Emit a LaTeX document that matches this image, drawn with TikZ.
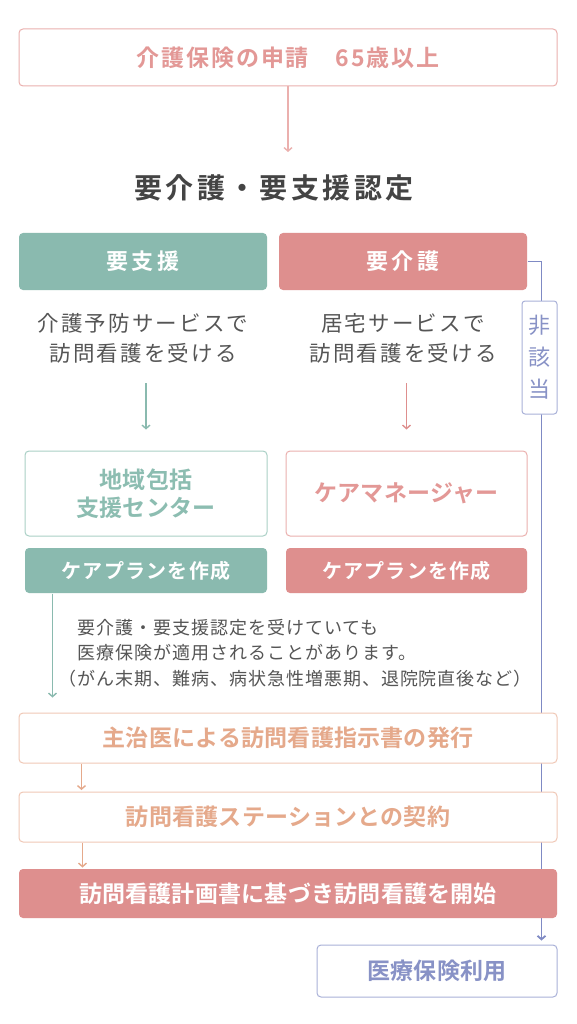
\documentclass[tikz,border=0pt]{standalone}
\usepackage{fontspec}
\setmainfont{Noto Sans CJK JP}[BoldFont={Noto Sans CJK JP Bold}]
\usetikzlibrary{arrows.meta,backgrounds}
\definecolor{pinkT}{HTML}{E39896}
\definecolor{pinkB}{HTML}{EBB0AE}
\definecolor{pinkF}{HTML}{DE8F8E}
\definecolor{tealF}{HTML}{8ABAAF}
\definecolor{tealB}{HTML}{AAD0C6}
\definecolor{tealT}{HTML}{8CBDB1}
\definecolor{orT}{HTML}{E5A98B}
\definecolor{orB}{HTML}{F0C8B6}
\definecolor{blL}{HTML}{7F8AC4}
\definecolor{blT}{HTML}{8892C6}
\definecolor{blB}{HTML}{A9B1D8}
\definecolor{grT}{HTML}{555555}
\definecolor{tiT}{HTML}{444444}
\begin{document}
\begin{tikzpicture}[x=1pt,y=-1pt,
  box/.style={rectangle, rounded corners=4pt, line width=1pt, inner sep=0pt, align=center, fill=white},
  hfont/.style={font=\fontsize{23}{28}\selectfont\bfseries\addfontfeatures{LetterSpace=1}},
  bodyfont/.style={font=\fontsize{21.5}{30}\selectfont\addfontfeatures{LetterSpace=10}},
  planfont/.style={font=\fontsize{20}{24}\selectfont\bfseries\addfontfeatures{LetterSpace=6}},
  arr/.style={line width=1.4pt, -{Straight Barb[length=3.5pt,width=8pt]}},
  plain/.style={inner sep=0pt, align=center}
]
\useasboundingbox (0,0) rectangle (576,1024);

% top
\node[box, draw=pinkB, text=pinkT, minimum width=538pt, minimum height=57pt,
  font=\fontsize{23}{28}\selectfont\bfseries\addfontfeatures{LetterSpace=8}] (apply) at (288,57.5) {介護保険の申請　65歳以上};
\coordinate (t1) at (288,152);
\draw[arr, pinkB] (apply.south) -- (t1);
\node[plain, text=tiT, font=\fontsize{28}{32}\selectfont\bfseries\addfontfeatures{LetterSpace=12}] (title) at (274,188) {要介護・要支援認定};

% level boxes
\node[box, fill=tealF, text=white, minimum width=248pt, minimum height=57pt,
  font=\fontsize{22}{26}\selectfont\bfseries\addfontfeatures{LetterSpace=18}] (shien) at (143,261.5) {要支援};
\node[box, fill=pinkF, text=white, minimum width=248pt, minimum height=57pt,
  font=\fontsize{22}{26}\selectfont\bfseries\addfontfeatures{LetterSpace=18}] (kaigo) at (403,261.5) {要介護};

\node[plain, text=grT, bodyfont] (ltext) at (143,338) {介護予防サービスで\\訪問看護を受ける};
\node[plain, text=grT, bodyfont] (rtext) at (403,338) {居宅サービスで\\訪問看護を受ける};

% centres
\node[box, draw=tealB, text=tealT, hfont, minimum width=242pt, minimum height=85pt] (center) at (146,493.5) {地域包括\\支援センター};
\node[box, draw=pinkB, text=pinkT, hfont, minimum width=241pt, minimum height=85pt] (cm) at (406.5,493.5) {ケアマネージャー};
\node[box, fill=tealF, text=white, planfont, minimum width=242pt, minimum height=45pt] (plan1) at (146,570.5) {ケアプランを作成};
\node[box, fill=pinkF, text=white, planfont, minimum width=241pt, minimum height=45pt] (plan2) at (406.5,570.5) {ケアプランを作成};

\draw[arr, tealF, shorten <=20pt, shorten >=21pt] (ltext.south -| center.north) -- (center.north);
\draw[arr, pinkF, shorten <=20pt, shorten >=21pt] (rtext.south -| cm.north) -- (cm.north);

% note
\node[plain, anchor=west, align=left, text=grT, font=\fontsize{18}{25.5}\selectfont\addfontfeatures{LetterSpace=5.5}] (note) at (58,653)
 {　要介護・要支援認定を受けていても\\　医療保険が適用されることがあります。\\（がん末期、難病、病状急性増悪期、退院院直後など）};

% lower flow
\node[box, draw=orB, text=orT, hfont, minimum width=538pt, minimum height=50pt] (doc) at (288,738) {主治医による訪問看護指示書の発行};
\node[box, draw=orB, text=orT, hfont, minimum width=538pt, minimum height=50pt] (contract) at (288,817) {訪問看護ステーションとの契約};
\node[box, fill=pinkF, text=white, hfont, minimum width=538pt, minimum height=49pt] (start) at (288,893.5) {訪問看護計画書に基づき訪問看護を開始};
\node[box, draw=blB, text=blT, hfont, minimum width=240pt, minimum height=52pt] (med) at (437,971) {医療保険利用};

\node[box, draw=blB, text=blT, rounded corners=3pt, minimum width=35pt, minimum height=113pt,
  font=\fontsize{22}{32}\selectfont] (hi) at (539.5,357.5) {非\\該\\当};

\draw[arr, tealF, shorten >=15pt] ([xshift=28pt]plan1.south west) -- ([xshift=34pt]doc.north west);
\draw[arr, orT, shorten >=1.5pt] ([xshift=63pt]doc.south west) -- ([xshift=63pt]contract.north west);
\draw[arr, orT, shorten >=1pt] ([xshift=64pt]contract.south west) -- ([xshift=64pt]start.north west);

\begin{scope}[on background layer]
\fill[white] (0,0) rectangle (576,1024);
\draw[arr, blL, line width=1.8pt, shorten >=4pt] (kaigo.east) -| ([xshift=-16pt]med.north east);
\end{scope}
\end{tikzpicture}
\end{document}
